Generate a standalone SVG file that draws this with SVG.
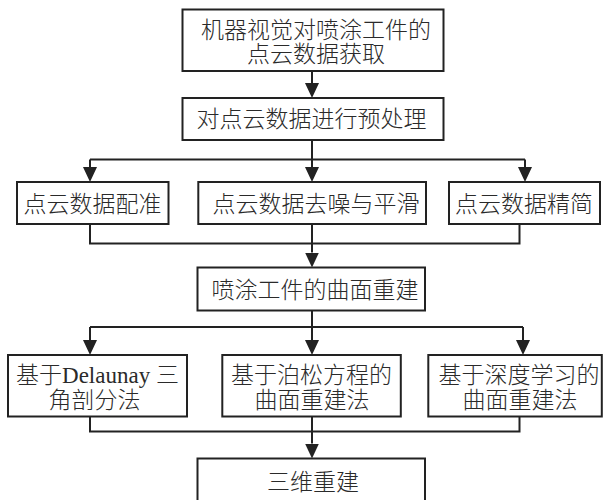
<svg xmlns="http://www.w3.org/2000/svg" width="603" height="500" viewBox="0 0 603 500">
<style>
.box{fill:#fff;stroke:#222;stroke-width:2}
.t{font-family:"Liberation Serif","Noto Sans CJK SC",serif;font-size:23px;font-weight:300;fill:#2a2a2a;text-anchor:middle}
.c{fill:none;stroke:#222;stroke-width:2}
.a{fill:none;stroke:#222;stroke-width:2;marker-end:url(#ah)}
</style>
<defs>
<marker id="ah" markerUnits="userSpaceOnUse" viewBox="0 0 15 14" refX="0" refY="7" markerWidth="15" markerHeight="14" orient="auto">
<path d="M0,0 L15,7 L0,14 z" fill="#222"/>
</marker>
</defs>
<rect width="603" height="500" fill="#fff"/>
<g id="connectors">
<path class="a" d="M312,71 V83"/>
<path class="c" d="M312,140 V159.5 M90,159.5 H525"/>
<path class="a" d="M90,159.5 V167"/>
<path class="a" d="M312,159.5 V167"/>
<path class="a" d="M525,159.5 V167"/>
<path class="c" d="M90,224 V243.5 H519.5 V224 M312,224 V243.5"/>
<path class="a" d="M312,243.5 V252.5"/>
<path class="c" d="M312,310.5 V327 M90,327 H523"/>
<path class="a" d="M90,327 V340"/>
<path class="a" d="M312,327 V340"/>
<path class="a" d="M523,327 V340"/>
<path class="c" d="M90,416.5 V431.5 H519.5 V416.5 M312,416.5 V431.5"/>
<path class="a" d="M312,431.5 V443.5"/>
</g>
<g id="n1"><rect class="box" x="182.5" y="9.5" width="261" height="61.5"/><text class="t" x="316" y="38.2">机器视觉对喷涂工件的</text><text class="t" x="316" y="62">点云数据获取</text></g>
<g id="n2"><rect class="box" x="182.5" y="98" width="261" height="42"/><text class="t" x="311.5" y="127.2">对点云数据进行预处理</text></g>
<g id="n3"><rect class="box" x="17" y="182" width="151.5" height="42"/><text class="t" x="92.5" y="212">点云数据配准</text></g>
<g id="n4"><rect class="box" x="198.3" y="182" width="227.7" height="42"/><text class="t" x="316" y="212">点云数据去噪与平滑</text></g>
<g id="n5"><rect class="box" x="449" y="182" width="151" height="42"/><text class="t" x="524" y="212">点云数据精简</text></g>
<g id="n6"><rect class="box" x="197.5" y="267.5" width="227.5" height="43"/><text class="t" x="315" y="297.7">喷涂工件的曲面重建</text></g>
<g id="n7"><rect class="box" x="8" y="355" width="179" height="61.5"/><text class="t" x="97.5" y="383.2">基于Delaunay 三</text><text class="t" x="94.5" y="407.7">角剖分法</text></g>
<g id="n8"><rect class="box" x="222.3" y="355" width="178.5" height="61.5"/><text class="t" x="311.5" y="383.2">基于泊松方程的</text><text class="t" x="312" y="407.7">曲面重建法</text></g>
<g id="n9"><rect class="box" x="428.3" y="355" width="173.5" height="61.5"/><text class="t" x="519" y="383.2">基于深度学习的</text><text class="t" x="520" y="407.7">曲面重建法</text></g>
<g id="n10"><rect class="box" x="197.5" y="458.5" width="227.5" height="43"/><text class="t" x="313" y="490.2">三维重建</text></g>
</svg>
